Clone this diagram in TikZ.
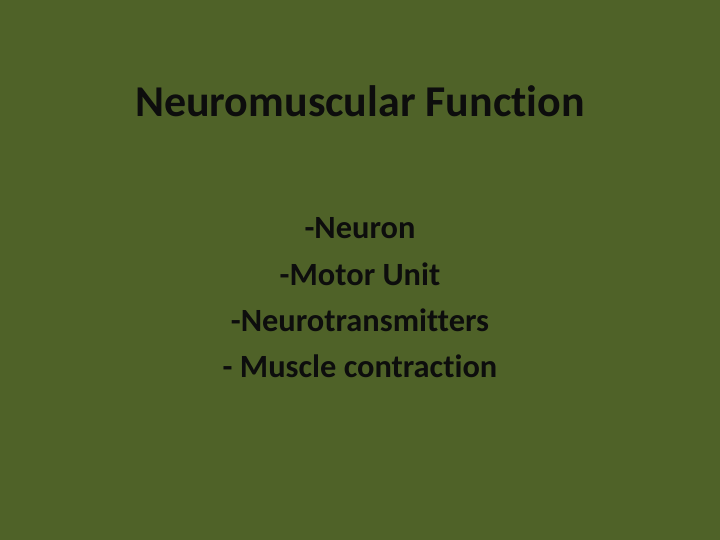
\documentclass[tikz,border=0pt]{standalone}
\usepackage{fontspec}
\setmainfont[Ligatures=NoCommon]{Carlito}
\definecolor{bg}{HTML}{4F6228}
\definecolor{tx}{HTML}{0D0D0D}
\begin{document}
\begin{tikzpicture}[x=1pt,y=1pt,
  line/.style={text=tx,font=\fontsize{32.4}{38}\selectfont\bfseries,inner sep=0pt,anchor=center}]
\fill[bg] (0,0) rectangle (720,540);
\useasboundingbox (0,0) rectangle (720,540);
\node[text=tx,font=\fontsize{44}{52}\selectfont\bfseries,inner sep=0pt] (title) at (360,439) {Neuromuscular Function};
\node[line] (l1) at (360,312) {-Neuron};
\node[line] (l2) at (360,266) {-Motor Unit};
\node[line] (l3) at (360,220) {-Neurotransmitters};
\node[line] (l4) at (360,174) {- Muscle contraction};
\end{tikzpicture}
\end{document}
